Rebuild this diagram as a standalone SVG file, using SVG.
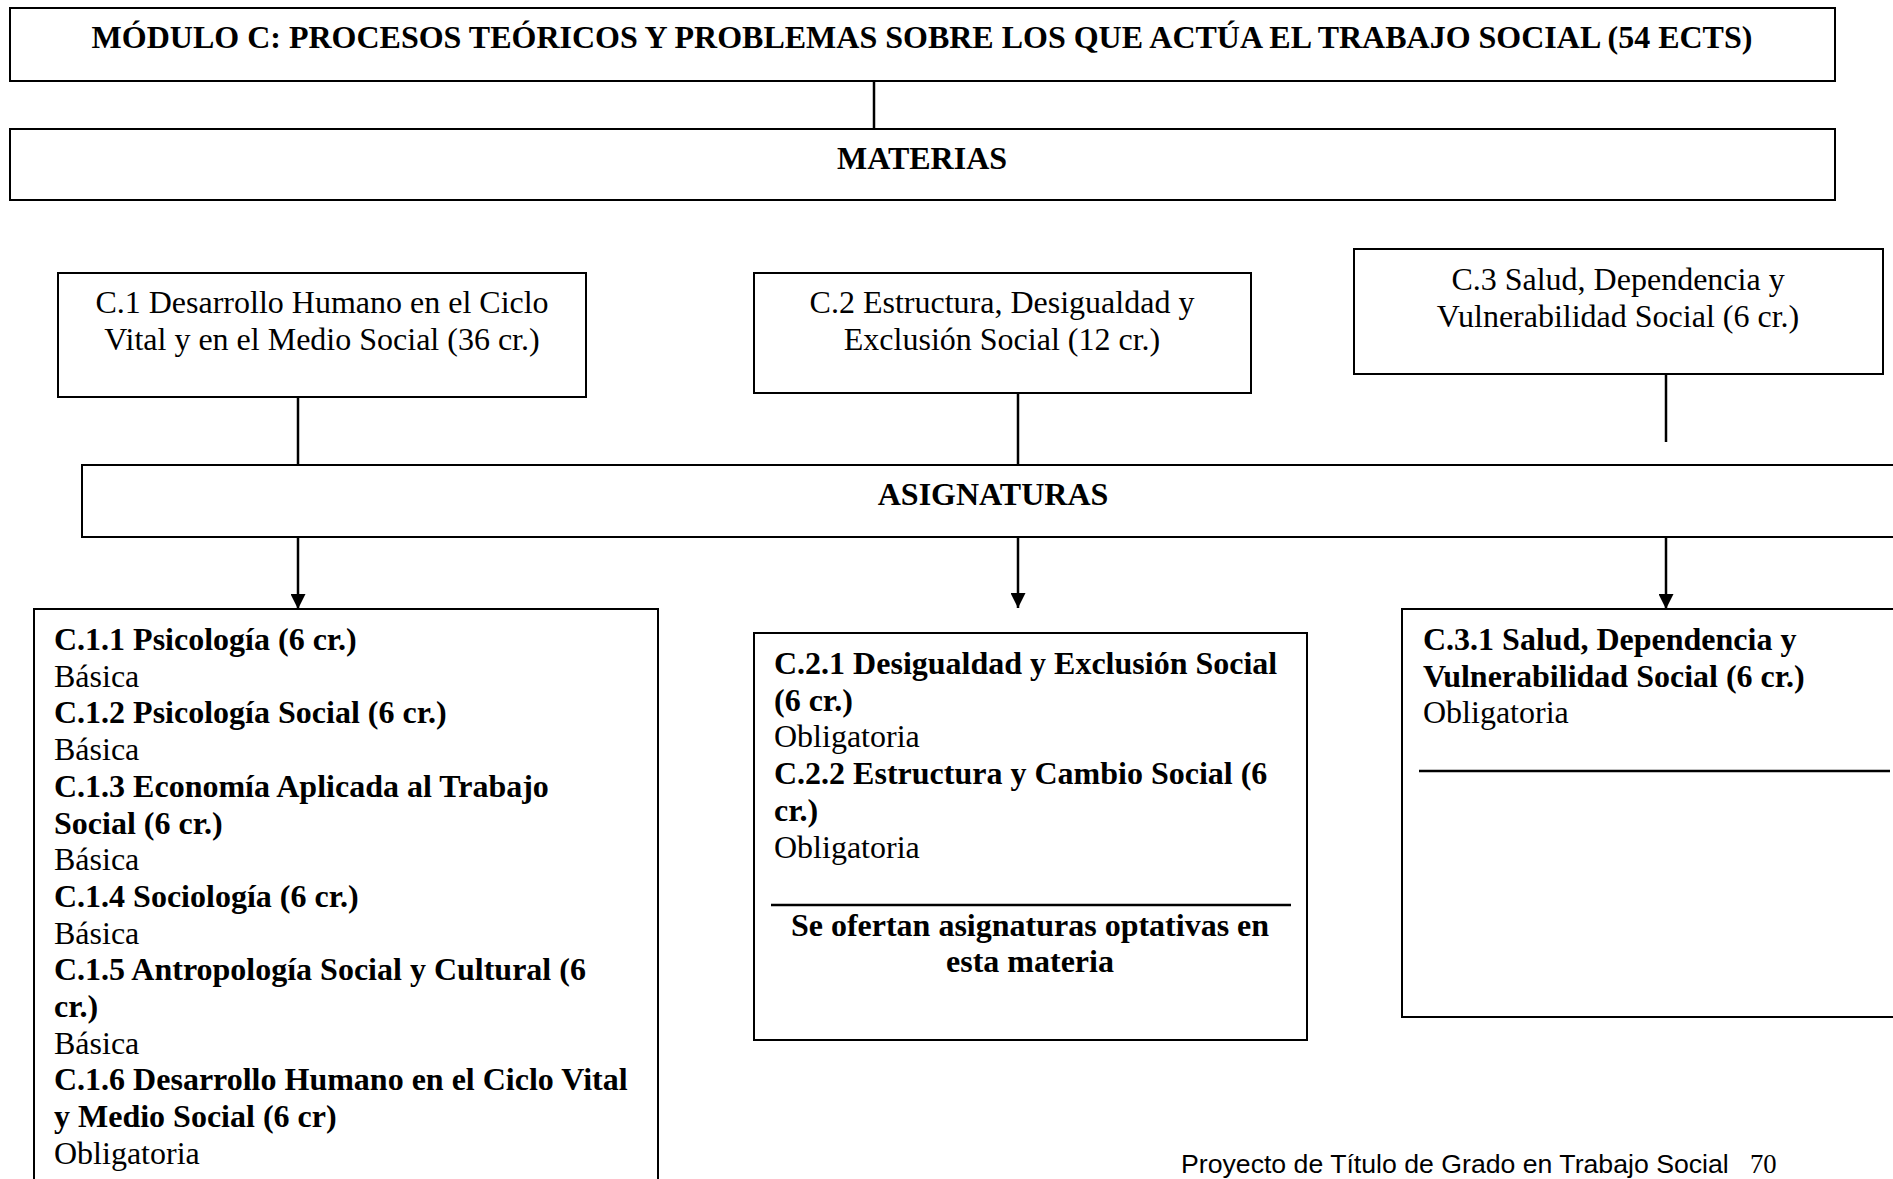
<svg xmlns="http://www.w3.org/2000/svg" width="1893" height="1179" viewBox="0 0 1893 1179">
<style>
  .box { fill: #ffffff; stroke: #000000; stroke-width: 2; }
  .conn { stroke: #000000; stroke-width: 2.5; fill: none; }
  .sep { stroke: #000000; stroke-width: 2.5; }
  text { font-family: "Liberation Serif", "Times New Roman", serif; font-size: 32px; fill: #000000; }
  .b { font-weight: bold; }
  .c { text-anchor: middle; }
  .foot { font-family: "Liberation Sans", Arial, sans-serif; font-size: 26.67px; }
  .num { font-size: 26.67px; }
</style>
<defs>
  <marker id="arrow" viewBox="0 0 15 15" refX="15" refY="7.5" markerWidth="15" markerHeight="15" markerUnits="userSpaceOnUse" orient="auto">
    <path d="M0,0 L15,7.5 L0,15 z" fill="#000000"/>
  </marker>
</defs>
<rect width="1893" height="1179" fill="#ffffff"/>

<g id="connectors">
  <line class="conn" x1="874" y1="81" x2="874" y2="129"/>
  <line class="conn" x1="298" y1="397" x2="298" y2="465"/>
  <line class="conn" x1="1018" y1="393" x2="1018" y2="465"/>
  <line class="conn" x1="1666" y1="368" x2="1666" y2="442"/>
  <line class="conn" x1="298" y1="537" x2="298" y2="609" marker-end="url(#arrow)"/>
  <line class="conn" x1="1018" y1="537" x2="1018" y2="608" marker-end="url(#arrow)"/>
  <line class="conn" x1="1666" y1="537" x2="1666" y2="609" marker-end="url(#arrow)"/>
</g>

<g id="modulo">
  <rect class="box" x="10" y="8" width="1825" height="73"/>
  <text class="b c" x="922" y="48">MÓDULO C: PROCESOS TEÓRICOS Y PROBLEMAS SOBRE LOS QUE ACTÚA EL TRABAJO SOCIAL (54 ECTS)</text>
</g>

<g id="materias">
  <rect class="box" x="10" y="129" width="1825" height="71"/>
  <text class="b c" x="922" y="169">MATERIAS</text>
</g>

<g id="c1">
  <rect class="box" x="58" y="273" width="528" height="124"/>
  <text class="c" x="322" y="313">C.1 Desarrollo Humano en el Ciclo</text>
  <text class="c" x="322" y="350">Vital y en el Medio Social (36 cr.)</text>
</g>

<g id="c2">
  <rect class="box" x="754" y="273" width="497" height="120"/>
  <text class="c" x="1002" y="313">C.2 Estructura, Desigualdad y</text>
  <text class="c" x="1002" y="350">Exclusión Social (12 cr.)</text>
</g>

<g id="c3">
  <rect class="box" x="1354" y="249" width="529" height="125"/>
  <text class="c" x="1618" y="290">C.3 Salud, Dependencia y</text>
  <text class="c" x="1618" y="327">Vulnerabilidad Social (6 cr.)</text>
</g>

<g id="asignaturas">
  <rect class="box" x="82" y="465" width="1830" height="72"/>
  <text class="b c" x="993" y="505">ASIGNATURAS</text>
</g>

<g id="c1-asignaturas">
  <rect class="box" x="34" y="609" width="624" height="600"/>
  <text class="b" x="54" y="650">C.1.1 Psicología (6 cr.)</text>
  <text x="54" y="686.7">Básica</text>
  <text class="b" x="54" y="723.4">C.1.2 Psicología Social (6 cr.)</text>
  <text x="54" y="760.1">Básica</text>
  <text class="b" x="54" y="796.8">C.1.3 Economía Aplicada al Trabajo</text>
  <text class="b" x="54" y="833.5">Social (6 cr.)</text>
  <text x="54" y="870.2">Básica</text>
  <text class="b" x="54" y="906.9">C.1.4 Sociología (6 cr.)</text>
  <text x="54" y="943.6">Básica</text>
  <text class="b" x="54" y="980.3">C.1.5 Antropología Social y Cultural (6</text>
  <text class="b" x="54" y="1017">cr.)</text>
  <text x="54" y="1053.7">Básica</text>
  <text class="b" x="54" y="1090.4">C.1.6 Desarrollo Humano en el Ciclo Vital</text>
  <text class="b" x="54" y="1127.1">y Medio Social (6 cr)</text>
  <text x="54" y="1163.8">Obligatoria</text>
</g>

<g id="c2-asignaturas">
  <rect class="box" x="754" y="633" width="553" height="407"/>
  <text class="b" x="774" y="674">C.2.1 Desigualdad y Exclusión Social</text>
  <text class="b" x="774" y="710.7">(6 cr.)</text>
  <text x="774" y="747.4">Obligatoria</text>
  <text class="b" x="774" y="784.1">C.2.2 Estructura y Cambio Social (6</text>
  <text class="b" x="774" y="820.8">cr.)</text>
  <text x="774" y="857.5">Obligatoria</text>
  <line class="sep" x1="771" y1="905" x2="1291" y2="905"/>
  <text class="b c" x="1030" y="936">Se ofertan asignaturas optativas en</text>
  <text class="b c" x="1030" y="972">esta materia</text>
</g>

<g id="c3-asignaturas">
  <rect class="box" x="1402" y="609" width="510" height="408"/>
  <text class="b" x="1423" y="650">C.3.1 Salud, Dependencia y</text>
  <text class="b" x="1423" y="686.7">Vulnerabilidad Social (6 cr.)</text>
  <text x="1423" y="723.4">Obligatoria</text>
  <line class="sep" x1="1419" y1="771" x2="1890" y2="771"/>
</g>

<g id="footer">
  <text class="foot" x="1181" y="1173">Proyecto de Título de Grado en Trabajo Social</text>
  <text class="num" x="1750" y="1173">70</text>
</g>
</svg>
